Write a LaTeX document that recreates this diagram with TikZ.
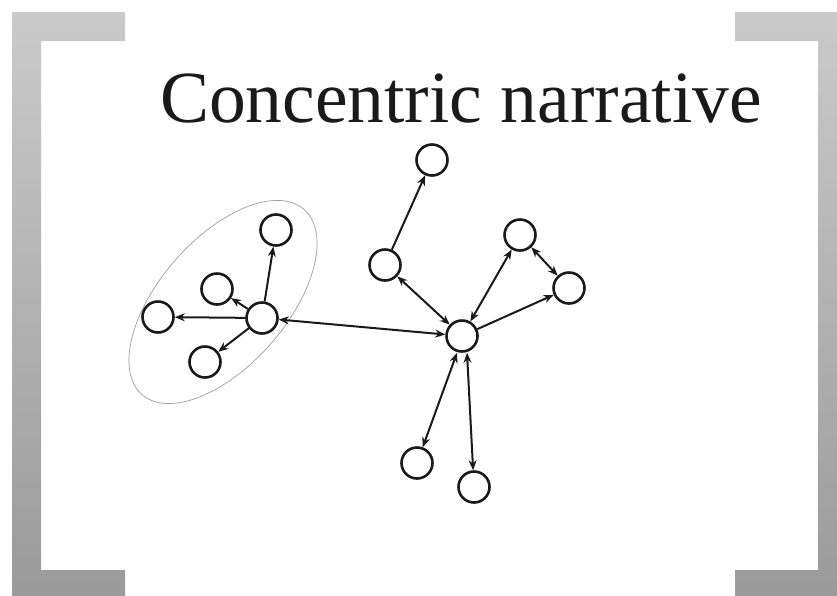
\documentclass[tikz,border=0pt]{standalone}
\usepackage{fontspec}
\setmainfont{Liberation Serif}
\usetikzlibrary{arrows.meta,shapes.geometric}
\definecolor{brtop}{HTML}{CACACA}
\definecolor{brbot}{HTML}{9A9A9A}
\definecolor{ink}{HTML}{1A1A1A}
\begin{document}
\begin{tikzpicture}[x=1pt,y=-1pt,
  dot/.style={circle,draw=ink,line width=2.6pt,minimum size=31pt,inner sep=0pt},
  link/.style={draw=ink,line width=2pt,-{Stealth[length=10pt,width=8pt]}},
  both/.style={draw=ink,line width=2pt,{Stealth[length=10pt,width=8pt]}-{Stealth[length=10pt,width=8pt]}},
  bracket/.style={top color=brtop,bottom color=brbot,draw=none}]
\useasboundingbox (0,0) rectangle (837,595);
\clip (0,0) rectangle (837,595);
\fill[white] (0,0) rectangle (837,595);
% brackets
\shade[bracket] (12,12) -- (125,12) -- (125,41) -- (41,41) -- (41,570) -- (125,570) -- (125,600) -- (12,600) -- cycle;
\shade[bracket] (850,12) -- (735,12) -- (735,41) -- (818,41) -- (818,570) -- (735,570) -- (735,600) -- (850,600) -- cycle;
% title
\node[anchor=base,font=\fontsize{73.5}{80}\selectfont,text=ink,inner sep=0pt] (title) at (461,122) {Concentric narrative};
% group outline
\node[ellipse,draw=gray!75,line width=0.7pt,minimum width=246pt,minimum height=127pt,rotate=48.8,inner sep=0pt] (group) at (223,302) {};
% left cluster
\node[dot] (L) at (262,318) {};
\node[dot] (Ltop) at (276,230) {};
\node[dot] (Lmid) at (217,289) {};
\node[dot] (Lleft) at (158,317) {};
\node[dot] (Lbot) at (205,362) {};
% right part
\node[dot] (H) at (462,336) {};
\node[dot] (Rtop) at (432,160) {};
\node[dot] (Rleft) at (385,265) {};
\node[dot] (Rup) at (520,235) {};
\node[dot] (Rright) at (569,288) {};
\node[dot] (Bl) at (417,463) {};
\node[dot] (Br) at (474,487) {};
% connectors
\draw[link] (L) -- (Ltop);
\draw[link] (L) -- (Lmid);
\draw[link] (L) -- (Lleft);
\draw[link] (L) -- (Lbot);
\draw[both] (L) -- (H);
\draw[link] (Rleft) -- (Rtop);
\draw[both] (H) -- (Rleft);
\draw[both] (H) -- (Rup);
\draw[both] (Rup) -- (Rright);
\draw[link] (H) -- (Rright);
\draw[both] ([xshift=-5pt]H.south) -- (Bl);
\draw[both] ([xshift=5pt]H.south) -- (Br);
\end{tikzpicture}
\end{document}
